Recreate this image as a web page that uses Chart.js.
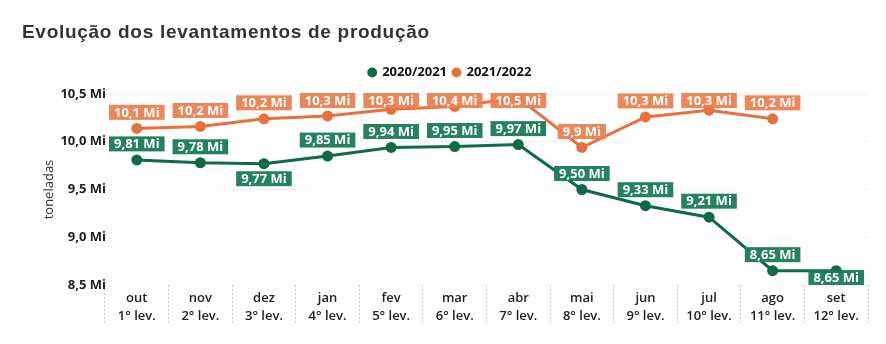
<!DOCTYPE html>
<html>
<head>
<meta charset="utf-8">
<script src="https://cdn.jsdelivr.net/npm/chart.js@4.4.1/dist/chart.umd.min.js"></script>
<style>
  html, body { margin: 0; padding: 0; background: #fff; }
  #wrap { width: 886px; height: 344px; position: relative; }
  #title {
    position: absolute; left: 22px; top: 21px;
    font: bold 19px "Liberation Sans", Arial, sans-serif;
    letter-spacing: 0.7px;
    color: #333; white-space: nowrap;
  }
  canvas { position: absolute; left: 0; top: 0; }
</style>
</head>
<body>
<div id="wrap">
  <canvas id="chartCanvas" width="886" height="344"></canvas>
  <div id="title">Evolução dos levantamentos de produção</div>
</div>
<script>
// meses e levantamentos
const months = ['out', 'nov', 'dez', 'jan', 'fev', 'mar', 'abr', 'mai', 'jun', 'jul', 'ago', 'set'];
const surveys = ['1° lev.', '2° lev.', '3° lev.', '4° lev.', '5° lev.', '6° lev.', '7° lev.', '8° lev.', '9° lev.', '10° lev.', '11° lev.', '12° lev.'];

// milhões de toneladas
const safra2021 = [9.81, 9.78, 9.77, 9.85, 9.94, 9.95, 9.97, 9.50, 9.33, 9.21, 8.65, 8.65];
const safra2022 = [10.14, 10.16, 10.24, 10.27, 10.34, 10.37, 10.46, 9.94, 10.26, 10.33, 10.24, null];

// rótulos que ficam abaixo do ponto
const below2021 = [false, false, true, false, false, false, false, false, false, false, false, true];

const green = '#0e6b44';
const greenBox = 'rgba(24,124,84,0.95)';
const orange = '#e8703a';
const orangeBox = 'rgba(236,128,80,0.95)';

const labels = months.map((m, i) => [m, surveys[i]]);

const fmt = (v, d) => v.toFixed(d).replace('.', ',') + ' Mi';

const valueLabels = {
  id: 'valueLabels',
  afterDatasetsDraw(chart) {
    const ctx = chart.ctx;
    ctx.save();
    ctx.font = 'bold 13px "Open Sans", sans-serif';
    ctx.textAlign = 'center';
    ctx.textBaseline = 'middle';
    chart.data.datasets.forEach((ds, di) => {
      const meta = chart.getDatasetMeta(di);
      meta.data.forEach((pt, i) => {
        const v = ds.data[i];
        if (v == null) return;
        const text = fmt(v, ds.decimals);
        const w = ctx.measureText(text).width + 10;
        const h = 15;
        let cy = ds.below && ds.below[i] ? pt.y + 15 : pt.y - 16;
        if (cy - h / 2 < chart.chartArea.top - 1) cy = chart.chartArea.top - 1 + h / 2;
        if (cy + h / 2 > chart.chartArea.bottom) cy = chart.chartArea.bottom - h / 2;
        let cx = pt.x;
        if (cx + w / 2 > chart.chartArea.right) cx = chart.chartArea.right - w / 2;
        ctx.fillStyle = ds.boxColor;
        ctx.fillRect(cx - w / 2, cy - h / 2, w, h);
        ctx.fillStyle = '#fff';
        ctx.fillText(text, cx, cy + 0.5);
      });
    });
    ctx.restore();
  }
};

// a bit more room under the legend
const legendGap = {
  id: 'legendGap',
  beforeInit(chart) {
    const fit = chart.legend.fit;
    chart.legend.fit = function () {
      fit.bind(chart.legend)();
      this.height += 5;
    };
  }
};

new Chart(document.getElementById('chartCanvas').getContext('2d'), {
  type: 'line',
  data: {
    labels: labels,
    datasets: [
      {
        label: '2020/2021',
        data: safra2021,
        decimals: 2,
        below: below2021,
        boxColor: greenBox,
        borderColor: green,
        backgroundColor: green,
        borderWidth: 3,
        pointRadius: 5.5,
        pointBackgroundColor: green,
        pointBorderWidth: 0,
        tension: 0
      },
      {
        label: '2021/2022',
        data: safra2022,
        decimals: 1,
        boxColor: orangeBox,
        borderColor: orange,
        backgroundColor: orange,
        borderWidth: 3,
        pointRadius: 5.5,
        pointBackgroundColor: orange,
        pointBorderWidth: 0,
        tension: 0
      }
    ]
  },
  options: {
    responsive: false,
    animation: false,
    layout: { padding: { left: 32, right: 18, top: 60, bottom: 0 } },
    plugins: {
      legend: {
        position: 'top',
        align: 'center',
        labels: {
          usePointStyle: true,
          pointStyle: 'circle',
          boxWidth: 7,
          boxHeight: 7,
          padding: 6,
          color: '#111',
          font: { family: '"Open Sans", sans-serif', size: 13, weight: 'bold' }
        }
      },
      tooltip: { enabled: false }
    },
    scales: {
      x: {
        offset: true,
        grid: {
          offset: true,
          drawOnChartArea: false,
          drawTicks: true,
          tickLength: 38,
          tickBorderDash: [2, 2],
          tickColor: '#c8c8c8'
        },
        border: { display: false },
        ticks: {
          padding: -33,
          color: '#222',
          maxRotation: 0,
          font: { family: '"Open Sans", sans-serif', size: 13, weight: '600', lineHeight: 1.35 }
        },
        afterFit(scale) { scale.height = 59; }
      },
      y: {
        min: 8.5,
        max: 10.5,
        grid: { color: '#e4e4e4', drawTicks: false },
        border: { display: false, dash: [2, 2] },
        ticks: {
          stepSize: 0.5,
          padding: -1,
          color: '#222',
          font: { family: '"Open Sans", sans-serif', size: 13, weight: 'bold' },
          callback: (v) => fmt(v, 1)
        },
        title: {
          display: true,
          text: 'toneladas',
          color: '#333',
          padding: { top: 9, bottom: 0 },
          font: { family: '"Open Sans", sans-serif', size: 13 }
        },
        afterFit(scale) { scale.width = 73; }
      }
    }
  },
  plugins: [valueLabels, legendGap]
});
</script>
</body>
</html>
